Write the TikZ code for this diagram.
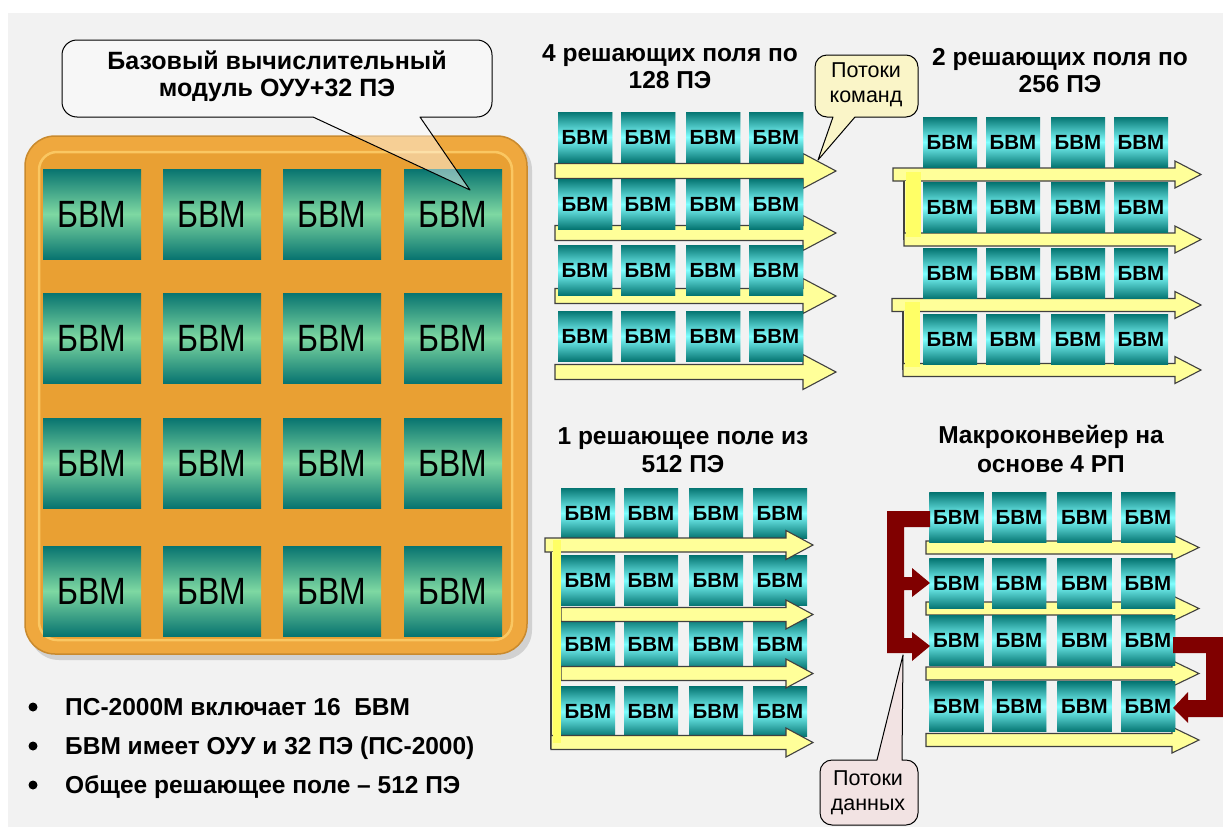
\documentclass[tikz,border=0pt]{standalone}
\usepackage{fontspec}
\setmainfont{Liberation Sans}
\newfontfamily\narrowfont[FakeStretch=0.84]{Liberation Sans}
\definecolor{bgray}{HTML}{F2F2F2}
\definecolor{orfill}{HTML}{E9A033}
\definecolor{orouter}{HTML}{EFA83E}
\definecolor{oredge}{HTML}{C98A2E}
\definecolor{orlight}{HTML}{FAC762}
\definecolor{tealbigdk}{HTML}{087470}
\definecolor{tealbigmid}{HTML}{7ED8A2}
\definecolor{tealsm}{HTML}{057572}
\definecolor{cyanmid}{HTML}{80FFFF}
\definecolor{ylw}{HTML}{FFFF99}
\definecolor{ylwbar}{HTML}{FFFF66}
\definecolor{dred}{HTML}{800000}
\definecolor{cmdfill}{HTML}{FAF5C8}
\definecolor{datfill}{HTML}{F2E3E3}
\newcommand\flowarrow[6]{\draw[yarrow] (#1,{#2-#5}) -- (#3,{#2-#5}) -- (#3,{#2-#6}) -- (#4,#2) -- (#3,{#2+#6}) -- (#3,{#2+#5}) -- (#1,{#2+#5}) -- cycle;}
\begin{document}
\begin{tikzpicture}[x=1pt,y=-1pt,
  bigtile/.style={minimum width=98pt, minimum height=90pt, inner sep=0pt,
    top color=tealbigdk, bottom color=tealbigdk, middle color=tealbigmid,
    font=\narrowfont\fontsize{38}{40}\selectfont},
  smalltile/.style={minimum width=54pt, minimum height=50pt, inner sep=0pt,
    top color=tealsm, bottom color=tealsm, middle color=cyanmid,
    font=\bfseries\fontsize{20.5}{22}\selectfont},
  yarrow/.style={fill=ylw, draw=black!75, line width=1.1pt, line join=miter},
  ybar/.style={fill=ylwbar},
  title/.style={anchor=base, inner sep=0pt, font=\bfseries\fontsize{24.5}{28}\selectfont},
  bubtxt/.style={anchor=base, inner sep=0pt, font=\bfseries\fontsize{25}{28}\selectfont},
  bultxt/.style={anchor=base west, inner sep=0pt, font=\bfseries\fontsize{24.5}{28}\selectfont},
  calltxt/.style={anchor=base, inner sep=0pt, font=\fontsize{21.5}{24}\selectfont},
  callout/.style={draw=black, line width=1pt, line join=round},
  dredarrow/.style={fill=dred}
]
\useasboundingbox (0,0) rectangle (1223,827);
\fill[white] (0,0) rectangle (1223,827);
\fill[bgray] (8,13) rectangle (1223,827);

% ---- left module panel ----
\fill[black!18, rounded corners=30pt] (29,140) rectangle (532,660);
\fill[orouter, draw=oredge, line width=1.5pt, rounded corners=30pt] (25,136) rectangle (527,654);
\fill[orfill, draw=orlight, line width=2.5pt, rounded corners=18pt] (39,152) rectangle (512,640);
\foreach \c/\x in {1/92,2/212,3/332,4/453}
  \foreach \r/\y in {1/214,2/338,3/463,4/591}
    \node[bigtile] (L\r\c) at (\x,\y) {БВМ};

% callout of the module
\path[callout, fill=white, fill opacity=0.45]
  (470,190) -- (420,117) -- (477,117) arc[start angle=90,end angle=0,radius=15]
  -- (492,55) arc[start angle=0,end angle=-90,radius=15]
  -- (77,40) arc[start angle=270,end angle=180,radius=15]
  -- (62,102) arc[start angle=180,end angle=90,radius=15]
  -- (313,117) -- cycle;
\node[bubtxt] (bub1) at (277,69) {Базовый вычислительный};
\node[bubtxt] (bub2) at (277,96) {модуль ОУУ+32 ПЭ};

% ---- bullets ----
\foreach \i/\y/\t in {1/715/{ПС-2000М включает 16\ \ БВМ},2/754/{БВМ имеет ОУУ и 32 ПЭ (ПС-2000)},3/793/{Общее решающее поле – 512 ПЭ}}{
  \fill (33,\y-8) circle (4.5pt);
  \node[bultxt] (bul\i) at (65,\y) {\t};
}

% ---- titles ----
\node[title] (tA1) at (670,61) {4 решающих поля по};
\node[title] (tA2) at (670,88) {128 ПЭ};
\node[title] (tB1) at (1060,65) {2 решающих поля по};
\node[title] (tB2) at (1060,92) {256 ПЭ};
\node[title] (tC1) at (683,444) {1 решающее поле из};
\node[title] (tC2) at (683,472) {512 ПЭ};
\node[title] (tD1) at (1051,443) {Макроконвейер на};
\node[title] (tD2) at (1051,472) {основе 4 РП};

% ---- grid A: 4 fields of 128 ----
\foreach \yc in {171,233,296,372}
  \flowarrow{555}{\yc}{803}{836}{7.5}{17.5}
\foreach \c/\x in {1/585,2/648,3/713,4/776}
  \foreach \r/\y in {1/137,2/204,3/270,4/336}
    \node[smalltile] (A\r\c) at (\x,\y) {БВМ};

% ---- grid B: 2 fields of 256 ----
\flowarrow{893}{174.5}{1175}{1201}{6.5}{13.5}
\fill[ylw] (904,181) rectangle (921,240);
\draw[black!75, line width=1.1pt] (904,181) -- (904,240);
\flowarrow{904}{239.5}{1175}{1201}{6.5}{13.5}
\fill[ybar] (906,172) rectangle (921,237);
\flowarrow{892}{305}{1175}{1201}{6.5}{13.5}
\fill[ylw] (903,311) rectangle (920,370);
\draw[black!75, line width=1.1pt] (903,311) -- (903,370);
\flowarrow{903}{370}{1175}{1201}{6.5}{13.5}
\fill[ybar] (905,302) rectangle (920,367);
\foreach \c/\x in {1/950,2/1013,3/1078,4/1141}
  \foreach \r/\y in {1/142,2/207.5,3/273.5,4/339}
    \node[smalltile] (B\r\c) at (\x,\y) {БВМ};

% ---- grid C: 1 field of 512 ----
\foreach \c/\x in {1/588,2/651,3/716,4/780}
  \foreach \r/\y in {1/513,2/580.5,3/644,4/711.5}
    \node[smalltile] (C\r\c) at (\x,\y) {БВМ};
\flowarrow{545}{545}{786}{813}{7}{14.5}
\fill[ylw] (551,552) rectangle (561,749);
\draw[black!75, line width=1.1pt] (551,552) -- (551,749);
\flowarrow{561}{614.5}{786}{813}{7}{14.5}
\flowarrow{561}{673.5}{786}{813}{7}{14.5}
\flowarrow{551}{742.5}{786}{813}{7}{14.5}
\fill[ybar] (553,540) rectangle (561,743);

% ---- grid D: macro-pipeline ----
\foreach \yc in {547.5,608.5,673.5,740}
  \flowarrow{926}{\yc}{1172}{1199}{6.5}{13}
\foreach \c/\x in {1/956.5,2/1019,3/1084.5,4/1148}
  \foreach \r/\y in {1/517.5,2/583.5,3/640,4/706.5}
    \node[smalltile] (D\r\c) at (\x,\y) {БВМ};
\fill[dredarrow] (930,511) -- (887,511) -- (887,653) -- (912,653) -- (912,661) -- (930,646)
  -- (912,632) -- (912,638) -- (904,638) -- (904,590) -- (912,590) -- (912,597) -- (930,583)
  -- (912,568) -- (912,577) -- (904,577) -- (904,527) -- (930,527) -- cycle;
\fill[dredarrow] (1173,637) -- (1223,637) -- (1223,717) -- (1188,717) -- (1188,723) -- (1173,708)
  -- (1188,692) -- (1188,700) -- (1206,700) -- (1206,653) -- (1173,653) -- cycle;

% ---- callout: command flows ----
\path[callout, fill=cmdfill]
  (818,160) -- (833,117) -- (827,117) arc[start angle=90,end angle=180,radius=12]
  -- (815,67) arc[start angle=180,end angle=270,radius=12]
  -- (906,55) arc[start angle=270,end angle=360,radius=12]
  -- (918,105) arc[start angle=0,end angle=90,radius=12]
  -- (855,117) -- cycle;
\node[calltxt] (cmd1) at (866,77) {Потоки};
\node[calltxt] (cmd2) at (866,102) {команд};

% ---- callout: data flows ----
\path[callout, fill=datfill]
  (903,655) -- (902,760) -- (906,760) arc[start angle=270,end angle=360,radius=12]
  -- (918,813) arc[start angle=0,end angle=90,radius=12]
  -- (832,825) arc[start angle=90,end angle=180,radius=12]
  -- (820,772) arc[start angle=180,end angle=270,radius=12]
  -- (877,760) -- cycle;
\node[calltxt] (dat1) at (868,785) {Потоки};
\node[calltxt] (dat2) at (868,810) {данных};
\end{tikzpicture}
\end{document}
